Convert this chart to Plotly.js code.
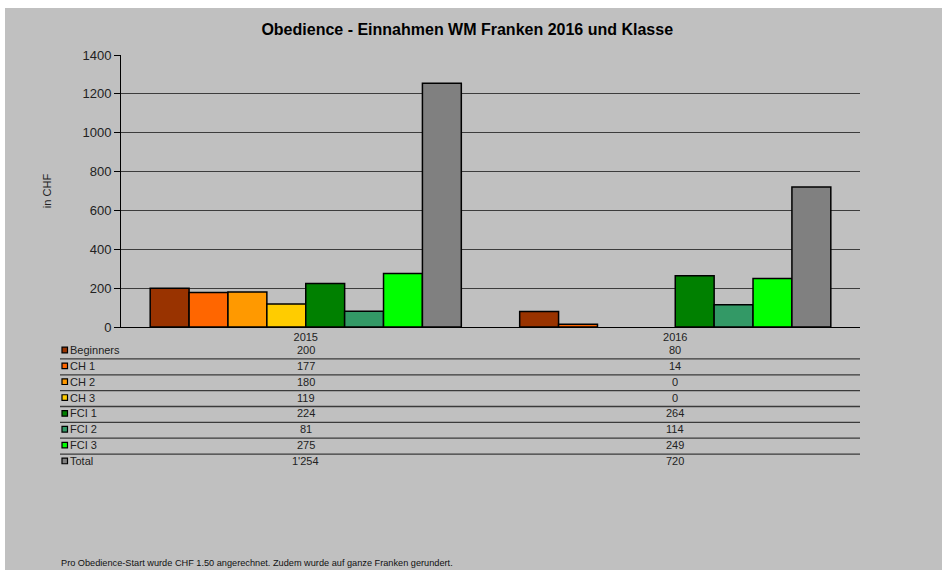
<!DOCTYPE html>
<html>
<head>
<meta charset="utf-8">
<script src="https://cdn.plot.ly/plotly-3.0.1.min.js"></script>
<style>html,body{margin:0;padding:0;background:#fff;}#chart{width:942px;height:570px;}</style>
</head>
<body>
<div id="chart"></div>
<script>
// ---- Data ----
const categories = ['2015', '2016'];
const seriesNames = ['Beginners', 'CH 1', 'CH 2', 'CH 3', 'FCI 1', 'FCI 2', 'FCI 3', 'Total'];
const beginners = [200, 80];
const ch1 = [177, 14];
const ch2 = [180, 0];
const ch3 = [119, 0];
const fci1 = [224, 264];
const fci2 = [81, 114];
const fci3 = [275, 249];
const total = [1254, 720];
const seriesValues = [beginners, ch1, ch2, ch3, fci1, fci2, fci3, total];
const seriesColors = ['#993300', '#FF6600', '#FF9900', '#FFCC00', '#008000', '#339966', '#00FF00', '#808080'];
const yTicks = [0, 200, 400, 600, 800, 1000, 1200, 1400];

const titleText = 'Obedience - Einnahmen WM Franken 2016 und Klasse';
const yTitle = 'in CHF';
const footnote = 'Pro Obedience-Start wurde CHF 1.50 angerechnet. Zudem wurde auf ganze Franken gerundert.';

// ---- Geometry helpers (pixel -> paper) ----
const W = 942, H = 570;
const L = 121, R = 860, T = 55, B = 327;
const px = x => (x - L) / (R - L);
const py = y => (B - y) / (B - T);

function fmt(v) { return String(v).replace(/\B(?=(\d{3})+(?!\d))/g, "'"); }

const font = 'Liberation Sans, Arial, sans-serif';

const traces = seriesNames.map((name, i) => ({
  type: 'bar',
  name: name,
  x: categories,
  y: seriesValues[i],
  marker: {
    color: seriesColors[i],
    line: { color: '#000', width: seriesValues[i].map(v => (v === 0 ? 0 : 1.5)) }
  },
  hoverinfo: 'x+y+name'
}));

const shapes = [
  // white margins at top and left
  { type: 'rect', xref: 'paper', yref: 'paper', x0: px(0), x1: px(W), y0: py(0), y1: py(8), fillcolor: '#fff', line: { width: 0 }, layer: 'above' },
  { type: 'rect', xref: 'paper', yref: 'paper', x0: px(0), x1: px(5), y0: py(H), y1: py(0), fillcolor: '#fff', line: { width: 0 }, layer: 'above' }
];
const annotations = [];

const rowY0 = 350, rowStep = 15.85;
seriesNames.forEach((name, i) => {
  const yc = rowY0 + i * rowStep;
  // key square
  shapes.push({ type: 'rect', xref: 'paper', yref: 'paper', x0: px(62), x1: px(67.5), y0: py(yc + 2.8), y1: py(yc - 2.8),
    fillcolor: seriesColors[i], line: { color: '#000', width: 1.2 } });
  annotations.push({ xref: 'paper', yref: 'paper', x: px(68), y: py(yc), xanchor: 'left', yanchor: 'middle',
    text: name, showarrow: false, font: { family: font, size: 11, color: '#222' } });
  categories.forEach((c, j) => {
    annotations.push({ xref: 'x', yref: 'paper', x: j, y: py(yc), xanchor: 'center', yanchor: 'middle',
      text: fmt(seriesValues[i][j]), showarrow: false, font: { family: font, size: 11, color: '#222' } });
  });
  if (i < seriesNames.length - 1) {
    const ly = yc + rowStep / 2 + 1;
    shapes.push({ type: 'line', xref: 'paper', yref: 'paper', x0: px(60), x1: px(860), y0: py(ly), y1: py(ly),
      line: { color: '#3a3a3a', width: 1.3 } });
  }
});

annotations.push({ xref: 'paper', yref: 'paper', x: px(59), y: py(563), xanchor: 'left', yanchor: 'middle',
  text: footnote, showarrow: false, font: { family: font, size: 9.2, color: '#111' } });

const layout = {
  width: W, height: H,
  margin: { l: L, r: W - R, t: T, b: H - B, pad: 0 },
  paper_bgcolor: '#C0C0C0',
  plot_bgcolor: '#C0C0C0',
  showlegend: false,
  barmode: 'group',
  bargap: 0.158,
  bargroupgap: 0,
  font: { family: font, color: '#222' },
  title: { text: titleText, x: 0.496, xanchor: 'center', y: 1 - 29 / H, yanchor: 'middle',
    font: { family: font, size: 16, color: '#000', weight: 'bold' } },
  xaxis: {
    type: 'category',
    range: [-0.5, 1.5],
    autorange: false,
    showgrid: false,
    showline: true, linecolor: '#000', linewidth: 1,
    ticks: '', ticklen: 0,
    tickfont: { family: font, size: 11, color: '#222' },
    fixedrange: true
  },
  yaxis: {
    range: [0, 1400],
    autorange: false,
    tickvals: yTicks,
    showgrid: true, gridcolor: '#3c3c3c', gridwidth: 1,
    zeroline: true, zerolinecolor: '#000', zerolinewidth: 1,
    showline: true, linecolor: '#000', linewidth: 1,
    ticks: 'outside', ticklen: 6, tickcolor: '#000',
    tickfont: { family: font, size: 13, color: '#222' },
    title: { text: yTitle, standoff: 28, font: { family: font, size: 11, color: '#222' } },
    automargin: false,
    fixedrange: true
  },
  shapes: shapes,
  annotations: annotations
};

Plotly.newPlot('chart', traces, layout, { displayModeBar: false, staticPlot: true });
</script>
</body>
</html>
